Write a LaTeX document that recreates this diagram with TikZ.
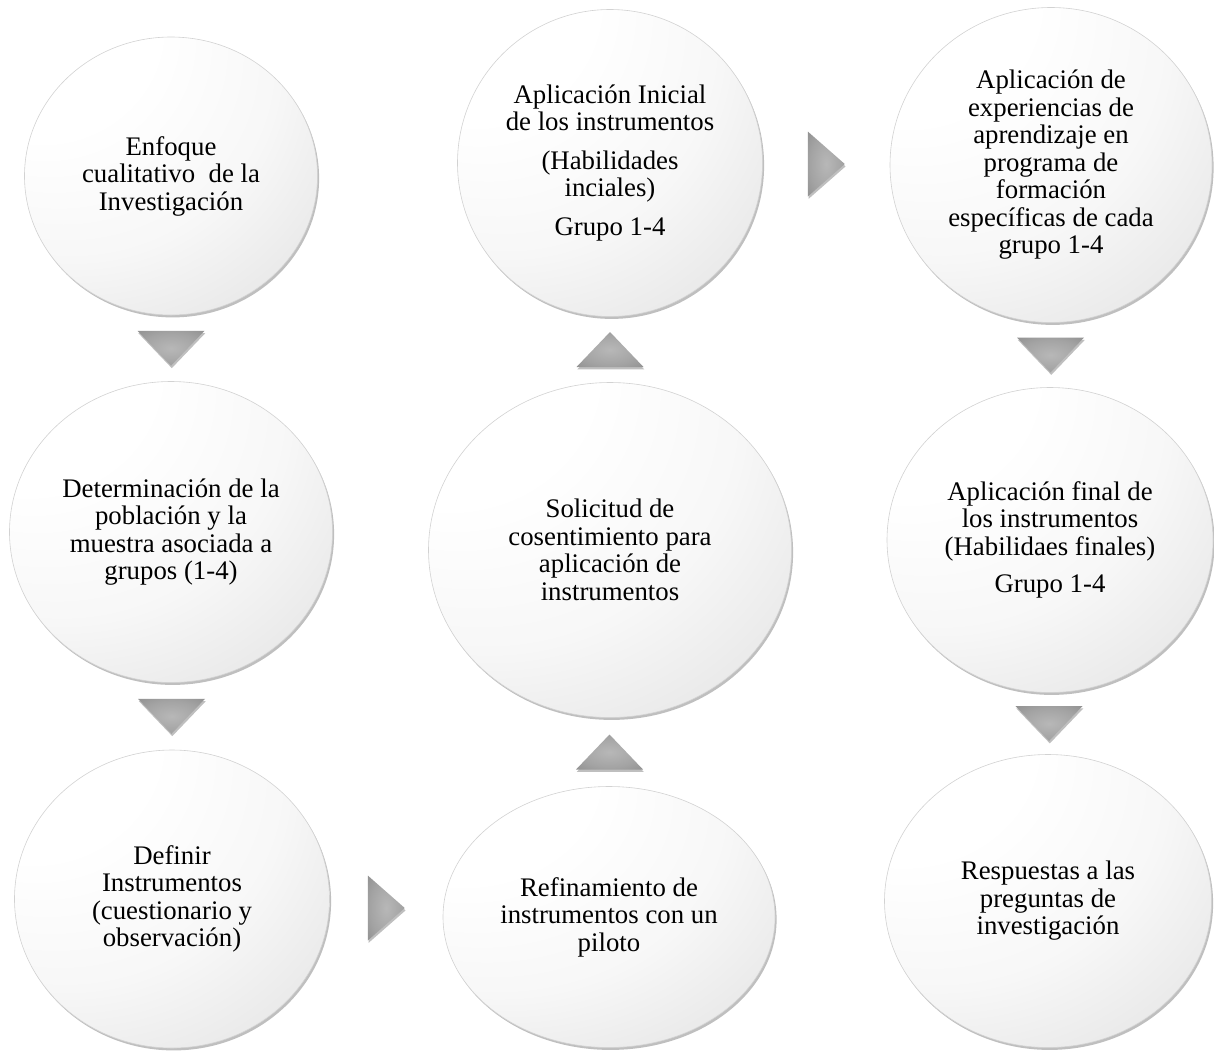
\documentclass[tikz,border=0pt]{standalone}
\usepackage{fontspec}
\setmainfont{Liberation Serif}
\usetikzlibrary{shapes.geometric,shadows,calc}
\newcommand\diagfont{\fontsize{13.4}{13.75}\selectfont}
\pgfdeclareradialshading{softball}{\pgfpoint{-30bp}{36bp}}{%
  color(0bp)=(white); color(20bp)=(white); color(35bp)=(white!97!black);
  color(45bp)=(white!92!black); color(52bp)=(white!86!black); color(56bp)=(white!80!black);
  color(59bp)=(white!65!black); color(62bp)=(white!50!black); color(80bp)=(white!50!black)}
\pgfdeclareradialshading{trishade}{\pgfpoint{0bp}{0bp}}{%
  color(0bp)=(white!72!black); color(22bp)=(white!64!black); color(40bp)=(white!55!black);
  color(50bp)=(white!49!black)}
\tikzset{
  circ/.style={ellipse, inner sep=0pt, align=center, font=\diagfont,
    shade, shading=softball, draw=gray!35, line width=0.3pt,
    drop shadow={shadow xshift=0.8pt, shadow yshift=-1.2pt, opacity=0.25, fill=black}},
  trifill/.style={shade, shading=trishade,
    drop shadow={shadow xshift=0.4pt, shadow yshift=-1.2pt, opacity=0.25, fill=black}},
  tridown/.pic={\path[trifill] (-33.5,-17.5) -- (33.5,-17.5) -- (0,17.5) -- cycle;},
  triup/.pic={\path[trifill] (-33.5,17.5) -- (33.5,17.5) -- (0,-17.5) -- cycle;},
  triright/.pic={\path[trifill] (-18.5,-32.5) -- (-18.5,32.5) -- (18.5,0) -- cycle;}
}
\begin{document}
\begin{tikzpicture}[x=0.5pt,y=-0.5pt]
\useasboundingbox[fill=white] (0,0) rectangle (1214,1051);
% column 1
\node[circ, minimum width=146.5pt, minimum height=139pt] (c1) at (171,176)
  {Enfoque\\cualitativo\ \ de la\\Investigación};
\node[circ, minimum width=161.5pt, minimum height=150.5pt] (c2) at (171,532)
  {Determinación de la\\población y la\\muestra asociada a\\grupos (1-4)};
\node[circ, minimum width=157.5pt, minimum height=149pt] (c3) at (172,899)
  {Definir\\Instrumentos\\(cuestionario y\\observación)};
% column 2
\node[circ, minimum width=166pt, minimum height=130.5pt] (c4) at (609,917)
  {Refinamiento de\\instrumentos con un\\piloto};
\node[circ, minimum width=181.5pt, minimum height=167.5pt] (c5) at (610,550)
  {Solicitud de\\cosentimiento para\\aplicación de\\instrumentos};
\node[circ, minimum width=152.5pt, minimum height=153.5pt] (c6) at (610,163)
  {Aplicación Inicial\\de los instrumentos\\[5.5pt](Habilidades\\inciales)\\[5.5pt]Grupo 1-4};
% column 3
\node[circ, minimum width=161pt, minimum height=157.5pt] (c7) at (1051,165)
  {Aplicación de\\experiencias de\\aprendizaje en\\programa de\\formación\\específicas de cada\\grupo 1-4};
\node[circ, minimum width=163pt, minimum height=152.5pt] (c8) at (1050,540)
  {Aplicación final de\\los instrumentos\\(Habilidaes finales)\\[5pt]Grupo 1-4};
\node[circ, minimum width=163.5pt, minimum height=146.5pt] (c9) at (1048,901)
  {Respuestas a las\\preguntas de\\investigación};
% arrow positions
\coordinate (a1) at ($(c1.south)!0.5!(c2.north)$);
\coordinate (a2) at ($(c2.south)!0.5!(c3.north)$);
\coordinate (a3) at ($(c3.east)!0.5!(c4.west)$);
\coordinate (a4) at ($(c4.north)!0.5!(c5.south)$);
\coordinate (a5) at ($(c5.north)!0.5!(c6.south)$);
\coordinate (a6) at ($(c6.east)!0.5!(c7.west)$);
\coordinate (a7) at ($(c7.south)!0.5!(c8.north)$);
\coordinate (a8) at ($(c8.south)!0.5!(c9.north)$);
\pic (t1) at (a1) {tridown};
\pic (t2) at (a2) {tridown};
\pic (t3) at (a3) {triright};
\pic (t4) at (a4) {triup};
\pic (t5) at (a5) {triup};
\pic (t6) at (a6) {triright};
\pic (t7) at (a7) {tridown};
\pic (t8) at (a8) {tridown};
\end{tikzpicture}
\end{document}
